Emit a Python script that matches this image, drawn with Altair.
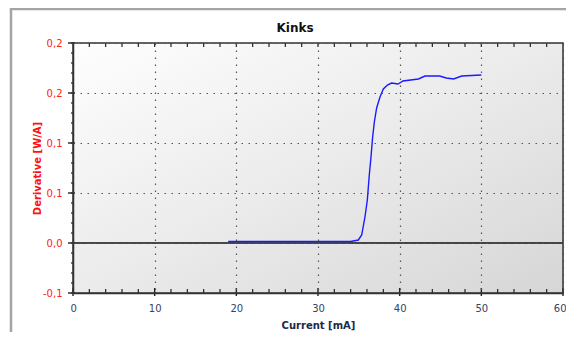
import altair as alt
import pandas as pd

# ---- data ----
current_ma = [19.0, 20.0, 22.0, 24.0, 26.0, 28.0, 30.0, 32.0, 34.0, 34.94, 35.35, 35.75,
              36.04, 36.28, 36.49, 36.69, 36.9, 37.18, 37.59, 38.0, 38.5, 39.0, 39.8,
              40.4, 42.3, 43.1, 44.9, 45.7, 46.6, 47.6, 50.0]
derivative = [0.0015, 0.0015, 0.0015, 0.0015, 0.0015, 0.0015, 0.0015, 0.0015, 0.0015, 0.003,
              0.008, 0.026, 0.043, 0.068, 0.086, 0.106, 0.121, 0.135, 0.146, 0.154, 0.158,
              0.160, 0.159, 0.162, 0.164, 0.167, 0.167, 0.165, 0.164, 0.167, 0.168]

x_ticks = [0, 10, 20, 30, 40, 50, 60]
y_ticks = [-0.05, 0.0, 0.05, 0.1, 0.15, 0.2]
y_tick_labels = ["-0,1", "0,0", "0,1", "0,1", "0,2", "0,2"]
x_minor = [v for v in range(2, 60, 2) if v % 10 != 0]
x_top = list(range(2, 60, 2))
y_minor = [round(-0.05 + 0.01 * i, 2) for i in range(26)]

chart_title = "Kinks"
x_title = "Current [mA]"
y_title = "Derivative [W/A]"

W, H = 490, 250
FONT = "DejaVu Sans"

df = pd.DataFrame({"x": current_ma, "y": derivative})

xs = alt.Scale(domain=[0, 60], nice=False, zero=False)
ys = alt.Scale(domain=[-0.05, 0.2], nice=False, zero=False)

label_expr = ""
for v, l in zip(y_ticks, y_tick_labels):
    label_expr += f"abs(datum.value - ({v})) < 1e-6 ? '{l}' : "
label_expr += "''"

grid_dash = [1.5, 5.5]

x_axis = alt.Axis(values=x_ticks, title=x_title, ticks=False, grid=True, zindex=1,
                  gridDash=grid_dash, gridColor="#555", gridWidth=1.2,
                  domainColor="#333", domainWidth=1.5,
                  labelFont=FONT, labelFontSize=10, labelColor="#334466",
                  labelPadding=10, labelFlush=True, labelFlushOffset=3,
                  titleFont=FONT, titleFontSize=10, titleFontWeight="bold",
                  titleColor="#1c2a4a", titleX=W / 2, titleY=32,
                  titleBaseline="middle", titleAlign="center")
y_axis = alt.Axis(values=y_ticks, title=y_title, ticks=False, grid=True, zindex=1,
                  gridDash=grid_dash, gridColor="#555", gridWidth=1.2,
                  domainColor="#333", domainWidth=1.5,
                  labelExpr=label_expr,
                  labelFont=FONT, labelFontSize=10, labelColor="#ff2020",
                  labelPadding=11, labelFlush=False,
                  titleFont=FONT, titleFontSize=10, titleFontWeight="bold",
                  titleColor="#ff1010", titleX=-36, titleY=H / 2, titleAngle=270,
                  titleBaseline="middle", titleAlign="center")

one = pd.DataFrame({"a": [0]})

bg = alt.Chart(one).mark_rect(
    fill=alt.Gradient(gradient="linear",
                      stops=[alt.GradientStop(color="#fefefe", offset=0),
                             alt.GradientStop(color="#ebebeb", offset=0.5),
                             alt.GradientStop(color="#d6d6d6", offset=1)],
                      x1=0, y1=0, x2=1, y2=1)
).encode(x=alt.value(0), x2=alt.value(W), y=alt.value(0), y2=alt.value(H))

border_top = alt.Chart(one).mark_rule(
    color="#a4a4a4", strokeWidth=2.5
).encode(x=alt.value(-63), x2=alt.value(W + 20), y=alt.value(-34))
border_left = alt.Chart(one).mark_rule(
    color="#a4a4a4", strokeWidth=2.5
).encode(x=alt.value(-62), y=alt.value(-35), y2=alt.value(H + 60))

title_mark = alt.Chart(one).mark_text(
    text=chart_title, font=FONT, fontSize=12, fontWeight="bold", color="#111",
    align="center", baseline="alphabetic"
).encode(x=alt.value(W / 2 - 23), y=alt.value(-11))

frame = alt.Chart(one).mark_rect(
    fillOpacity=0, stroke="#333", strokeWidth=1.5
).encode(x=alt.value(0), x2=alt.value(W), y=alt.value(0), y2=alt.value(H))

base_axes = alt.Chart(df).mark_point(opacity=0).encode(
    x=alt.X("x:Q", scale=xs, axis=x_axis),
    y=alt.Y("y:Q", scale=ys, axis=y_axis),
)

zero_line = alt.Chart(pd.DataFrame({"y": [0.0]})).mark_rule(
    color="#111", strokeWidth=1.5
).encode(y=alt.Y("y:Q", scale=ys), x=alt.value(0), x2=alt.value(W))

tick_color = "#222"
bot_major = alt.Chart(pd.DataFrame({"x": x_ticks})).mark_rule(
    color=tick_color, strokeWidth=1.4
).encode(x=alt.X("x:Q", scale=xs), y=alt.value(H - 5), y2=alt.value(H + 3))
bot_minor = alt.Chart(pd.DataFrame({"x": x_minor})).mark_rule(
    color=tick_color, strokeWidth=1.2
).encode(x=alt.X("x:Q", scale=xs), y=alt.value(H - 4), y2=alt.value(H + 1))
top_minor = alt.Chart(pd.DataFrame({"x": x_top})).mark_rule(
    color=tick_color, strokeWidth=1.2
).encode(x=alt.X("x:Q", scale=xs), y=alt.value(0), y2=alt.value(4))
left_major = alt.Chart(pd.DataFrame({"y": y_ticks})).mark_rule(
    color=tick_color, strokeWidth=1.4
).encode(y=alt.Y("y:Q", scale=ys), x=alt.value(-5), x2=alt.value(2))
left_minor = alt.Chart(pd.DataFrame({"y": y_minor})).mark_rule(
    color=tick_color, strokeWidth=1.2
).encode(y=alt.Y("y:Q", scale=ys), x=alt.value(-2), x2=alt.value(1))

line = alt.Chart(df).mark_line(color="#1a1aff", strokeWidth=1.4).encode(
    x=alt.X("x:Q", scale=xs),
    y=alt.Y("y:Q", scale=ys),
)

chart = alt.layer(
    bg, border_top, border_left, title_mark, base_axes, zero_line,
    bot_major, bot_minor, top_minor, left_major, left_minor, line, frame
).properties(
    width=W, height=H,
    autosize=alt.AutoSizeParams(type="none"),
    padding={"left": 65, "top": 35, "right": 3, "bottom": 39},
).configure_view(
    stroke=None
).configure(background="white")

chart.save("out.html", embed_options={"renderer": "svg", "actions": False})
